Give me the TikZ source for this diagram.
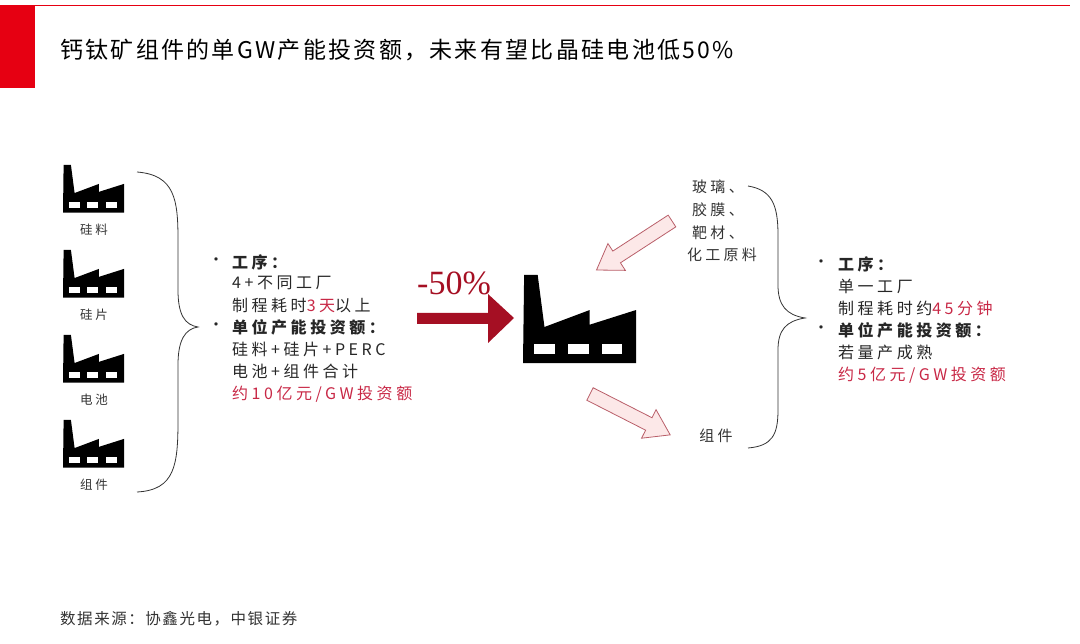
\documentclass[tikz,border=0pt]{standalone}
\usepackage{fontspec}
\setmainfont{Liberation Serif}
\newfontfamily\cjk{Noto Sans CJK SC}
\newfontfamily\cjks{Noto Sans CJK SC}[LetterSpace=22]
\newfontfamily\cjkt{Noto Sans CJK SC}[LetterSpace=10]
\definecolor{brandred}{RGB}{230,0,18}
\definecolor{txtred}{RGB}{200,40,70}
\definecolor{arrred}{RGB}{165,15,35}
\definecolor{pinkfill}{RGB}{252,232,232}
\definecolor{pinkdraw}{RGB}{185,95,105}
\tikzset{
  body/.style={font=\cjks\fontsize{16}{16}\selectfont, text=black!85, anchor=west, inner sep=0},
  lbl/.style={font=\cjks\fontsize{12.5}{12.5}\selectfont, text=black!80, inner sep=0},
  rlbl/.style={font=\cjks\fontsize{15}{15}\selectfont, text=black!80, inner sep=0},
  brace/.style={draw=black!80, line width=0.8pt},
  pinkstyle/.style={draw=pinkdraw, fill=pinkfill, line width=0.8pt},
  factory/.pic={
    \fill[black] (0.01,0) -- (0.13,0) -- (0.19,0.46) -- (0.59,0.31) -- (0.59,0.44) -- (1,0.31) -- (1,0.78) -- (0,0.78) -- cycle;
    \fill[white] (0.10,0.61) rectangle (0.28,0.70);
    \fill[white] (0.40,0.61) rectangle (0.58,0.70);
    \fill[white] (0.70,0.61) rectangle (0.88,0.70);
  }
}
\newcommand\pinkarrowpath{(0,-7) -- (66,-7) -- (66,-16) -- (90,0) -- (66,16) -- (66,7) -- (0,7) -- cycle}
\begin{document}
\begin{tikzpicture}[x=1pt,y=-1pt]
\useasboundingbox (0,0) rectangle (1080,644);
% header
\fill[brandred] (0,5) rectangle (35,88);
\draw[brandred, line width=0.8pt] (35,5) -- (1070,5);
\node[anchor=west, inner sep=0, font=\cjkt\fontsize{23}{23}\selectfont] (title) at (60,50) {钙钛矿组件的单GW产能投资额，未来有望比晶硅电池低50\%};
% left factories
\foreach \y/\t [count=\i] in {165/硅料,250/硅片,335/电池,420/组件}{
  \begin{scope}[shift={(63,\y)}, x=61pt, y=-61pt]
    \pic {factory};
  \end{scope}
  \node[lbl] (f\i) at (94,\y+65) {\t};
}
% left brace
\draw[brace] (137,172) .. controls (175,175) and (178,200) .. (178,240)
  -- (178,290) .. controls (178,315) and (185,325) .. (198,327)
  .. controls (185,329) and (178,340) .. (178,365) -- (178,420)
  .. controls (178,465) and (175,490) .. (137,492);
% left text
\node[body] (lb1) at (208,262) {•};
\node[body] (l1) at (232,262) {\textbf{工序：}};
\node[body] (l2) at (232,283) {4+不同工厂};
\node[body] (l3) at (232,305) {制程耗时\textcolor{txtred}{3天}以上};
\node[body] (lb2) at (208,327) {•};
\node[body] (l4) at (232,327) {\textbf{单位产能投资额：}};
\node[body] (l5) at (232,349) {硅料+硅片+PERC};
\node[body] (l6) at (232,371) {电池+组件合计};
\node[body, text=txtred] (l7) at (232,394) {约10亿元/GW投资额};
% red arrow
\node[inner sep=0, text=arrred, font=\fontsize{34}{34}\selectfont] (pct) at (454,283) {-50\%};
\fill[arrred] (417,313) -- (488,313) -- (488,294) -- (514,318) -- (488,343) -- (488,324) -- (417,324) -- cycle;
% center factory
\begin{scope}[shift={(523,275)}, x=113pt, y=-113pt]
  \pic {factory};
\end{scope}
% pink arrows
\begin{scope}[shift={(672,221)}, rotate=213]
  \filldraw[pinkstyle] \pinkarrowpath;
\end{scope}
\begin{scope}[shift={(590,394)}, rotate=-27]
  \filldraw[pinkstyle] \pinkarrowpath;
\end{scope}
% right top text
\node[rlbl] (r1) at (718,187) {玻璃、};
\node[rlbl] (r2) at (718,210) {胶膜、};
\node[rlbl] (r3) at (718,233) {靶材、};
\node[rlbl] (r4) at (722,255) {化工原料};
\node[rlbl] (r5) at (716,436) {组件};
% right brace
\draw[brace] (748,186) .. controls (772,190) and (778,205) .. (778,235)
  -- (778,285) .. controls (778,305) and (786,315) .. (805,318)
  .. controls (786,321) and (778,330) .. (778,350) -- (778,410)
  .. controls (778,435) and (772,446) .. (748,448);
% right text
\node[body] (rb1) at (813,264) {•};
\node[body] (q1) at (838,264) {\textbf{工序：}};
\node[body] (q2) at (838,286) {单一工厂};
\node[body] (q3) at (838,308) {制程耗时约\textcolor{txtred}{45分钟}};
\node[body] (rb2) at (813,330) {•};
\node[body] (q4) at (838,330) {\textbf{单位产能投资额：}};
\node[body] (q5) at (838,352) {若量产成熟};
\node[body, text=txtred] (q6) at (838,375) {约5亿元/GW投资额};
% footer
\node[anchor=west, inner sep=0, font=\cjkt\fontsize{15.5}{15.5}\selectfont, text=black!80] (src) at (60,619) {数据来源：协鑫光电，中银证券};
\end{tikzpicture}
\end{document}
